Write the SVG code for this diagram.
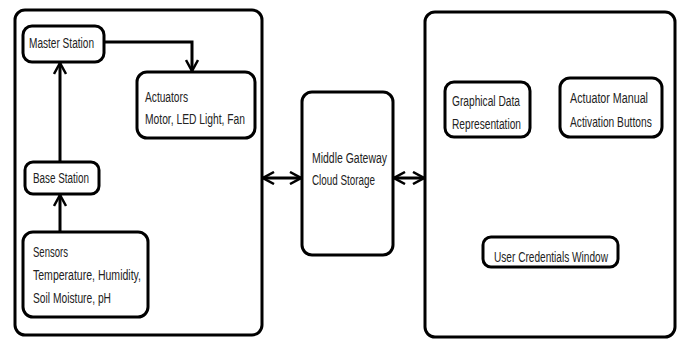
<svg xmlns="http://www.w3.org/2000/svg" width="679" height="340" viewBox="0 0 679 340">
<style>
.box{fill:#fff;stroke:#000;stroke-width:3}
.t{font-family:"Liberation Sans",Arial,sans-serif;font-size:14px;fill:#222}
.c{fill:none;stroke:#000;stroke-width:3}
</style>
<defs>
<marker id="ah" viewBox="0 0 14 14" refX="13" refY="7" markerWidth="14" markerHeight="14" markerUnits="userSpaceOnUse" orient="auto-start-reverse">
<polyline points="2,1 13,7 2,13" fill="none" stroke="#000" stroke-width="2.5"/>
</marker>
</defs>
<rect id="left-panel" class="box" x="15" y="10" width="247" height="325" rx="10"/>
<rect id="right-panel" class="box" x="425" y="12" width="250" height="325" rx="10"/>
<g id="master">
<rect class="box" x="23" y="26" width="81" height="36" rx="9"/>
<text class="t" x="29" y="48" textLength="65" lengthAdjust="spacingAndGlyphs">Master Station</text>
</g>
<g id="actuators">
<rect class="box" x="137" y="72" width="118" height="66" rx="10"/>
<text class="t" x="145" y="102" textLength="43" lengthAdjust="spacingAndGlyphs">Actuators</text>
<text class="t" x="145" y="124" textLength="100" lengthAdjust="spacingAndGlyphs">Motor, LED Light, Fan</text>
</g>
<g id="base">
<rect class="box" x="25" y="162" width="74" height="32" rx="8"/>
<text class="t" x="33" y="183" textLength="56" lengthAdjust="spacingAndGlyphs">Base Station</text>
</g>
<g id="sensors">
<rect class="box" x="23" y="232" width="125" height="85" rx="10"/>
<text class="t" x="33" y="257" textLength="35" lengthAdjust="spacingAndGlyphs">Sensors</text>
<text class="t" x="33" y="280" textLength="108" lengthAdjust="spacingAndGlyphs">Temperature, Humidity,</text>
<text class="t" x="33" y="303" textLength="78" lengthAdjust="spacingAndGlyphs">Soil Moisture, pH</text>
</g>
<g id="middle">
<rect class="box" x="302" y="92" width="91" height="163" rx="10"/>
<text class="t" x="312" y="163" textLength="75" lengthAdjust="spacingAndGlyphs">Middle Gateway</text>
<text class="t" x="312" y="185" textLength="63" lengthAdjust="spacingAndGlyphs">Cloud Storage</text>
</g>
<g id="graphical">
<rect class="box" x="445" y="82" width="85" height="55" rx="9"/>
<text class="t" x="452" y="106" textLength="68" lengthAdjust="spacingAndGlyphs">Graphical Data</text>
<text class="t" x="452" y="129" textLength="69" lengthAdjust="spacingAndGlyphs">Representation</text>
</g>
<g id="manual">
<rect class="box" x="560" y="78" width="102" height="59" rx="10"/>
<text class="t" x="570" y="103" textLength="78" lengthAdjust="spacingAndGlyphs">Actuator Manual</text>
<text class="t" transform="translate(570,127) scale(0.73,1)">Activation Buttons</text>
</g>
<g id="credentials">
<rect class="box" x="483" y="237" width="135" height="30" rx="8"/>
<text class="t" x="494" y="262" textLength="114" lengthAdjust="spacingAndGlyphs">User Credentials Window</text>
</g>
<g id="connectors">
<polyline class="c" points="104,42 192,42 192,71" marker-end="url(#ah)"/>
<line class="c" x1="60" y1="162" x2="60" y2="63" marker-end="url(#ah)"/>
<line class="c" x1="60" y1="232" x2="60" y2="195" marker-end="url(#ah)"/>
<line class="c" x1="263" y1="178" x2="301" y2="178" marker-start="url(#ah)" marker-end="url(#ah)"/>
<line class="c" x1="394" y1="178" x2="424" y2="178" marker-start="url(#ah)" marker-end="url(#ah)"/>
</g>
</svg>
